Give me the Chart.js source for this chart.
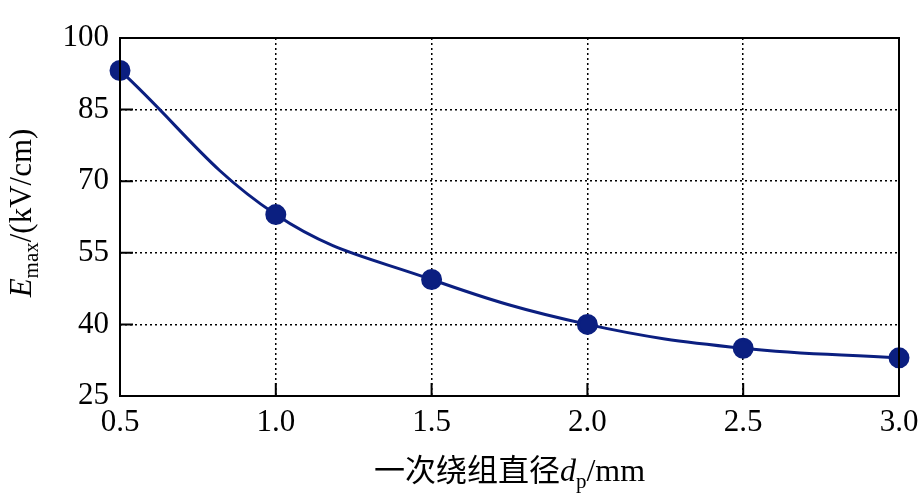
<!DOCTYPE html>
<html>
<head>
<meta charset="utf-8">
<script src="https://cdn.jsdelivr.net/npm/chart.js@4"></script>
<style>
  html, body { margin: 0; padding: 0; background: #fff; }
  #wrap { width: 919px; height: 498px; position: relative; }
</style>
</head>
<body>
<div id="wrap"><canvas id="c"></canvas></div>
<script>
// data
const diameters = [0.5, 1.0, 1.5, 2.0, 2.5, 3.0];
const eMax = [93.2, 63.0, 49.4, 40.0, 35.0, 33.0];
const xTicks = [0.5, 1.0, 1.5, 2.0, 2.5, 3.0];
const yTicks = [25, 40, 55, 70, 85, 100];

const serif = "'Liberation Serif', 'DejaVu Serif', serif";
const cjk = "'Noto Sans CJK SC', sans-serif";

// frame, inward ticks and the two axis titles
const decor = {
  id: "decor",
  afterDraw(chart) {
    const ctx = chart.ctx;
    const a = chart.chartArea;
    const xs = chart.scales.x, ys = chart.scales.y;
    ctx.save();
    ctx.strokeStyle = "#000";
    ctx.lineWidth = 2;
    ctx.setLineDash([]);
    ctx.beginPath();
    xTicks.forEach(v => {
      const px = xs.getPixelForValue(v);
      ctx.moveTo(px, a.bottom);
      ctx.lineTo(px, a.bottom - 13);
    });
    yTicks.forEach(v => {
      const py = ys.getPixelForValue(v);
      ctx.moveTo(a.left, py);
      ctx.lineTo(a.left + 13, py);
    });
    ctx.stroke();
    ctx.strokeRect(a.left, a.top, a.right - a.left, a.bottom - a.top);

    // x title: 一次绕组直径 d_p /mm
    ctx.fillStyle = "#000";
    ctx.textBaseline = "alphabetic";
    const parts = [
      { t: "一次绕组直径", f: "31px " + cjk, dy: 0 },
      { t: "d", f: "italic 32px " + serif, dy: 0 },
      { t: "p", f: "21px " + serif, dy: 7 },
      { t: "/mm", f: "32px " + serif, dy: 0 }
    ];
    drawParts(ctx, parts, (a.left + a.right) / 2, 481);

    // y title: E_max /(kV/cm), rotated
    ctx.translate(31, (a.top + a.bottom) / 2 - 4);
    ctx.rotate(-Math.PI / 2);
    const yparts = [
      { t: "E", f: "italic 31px " + serif, dy: 0 },
      { t: "max", f: "21px " + serif, dy: 7 },
      { t: "/(kV/cm)", f: "31px " + serif, dy: 0 }
    ];
    drawParts(ctx, yparts, 0, 0);
    ctx.restore();
  }
};

function drawParts(ctx, parts, cx, baseY) {
  let total = 0;
  parts.forEach(p => { ctx.font = p.f; p.w = ctx.measureText(p.t).width; total += p.w; });
  let x = cx - total / 2;
  ctx.textAlign = "left";
  parts.forEach(p => {
    ctx.font = p.f;
    ctx.fillText(p.t, x, baseY + p.dy);
    x += p.w;
  });
}

new Chart(document.getElementById("c"), {
  type: "line",
  data: {
    datasets: [{
      data: diameters.map((d, i) => ({ x: d, y: eMax[i] })),
      borderColor: "#0b1f80",
      backgroundColor: "#0b1f80",
      borderWidth: 3,
      pointRadius: 9,
      pointHoverRadius: 9,
      tension: 0.4,
      clip: false
    }]
  },
  options: {
    responsive: true,
    maintainAspectRatio: false,
    animation: false,
    layout: { padding: { top: 38, right: 20, left: 0, bottom: 0 } },
    plugins: { legend: { display: false }, tooltip: { enabled: false } },
    scales: {
      x: {
        type: "linear",
        min: 0.5,
        max: 3.0,
        afterBuildTicks: s => { s.ticks = xTicks.map(v => ({ value: v })); },
        afterFit: s => { s.height = 102; s.paddingLeft = 0; s.paddingRight = 0; },
        ticks: {
          color: "#000",
          font: { family: serif, size: 31 },
          padding: 8,
          maxRotation: 0,
          callback: v => v.toFixed(1)
        },
        grid: { color: "#000", lineWidth: 1.5, drawTicks: false },
        border: { display: false, dash: [2, 3] }
      },
      y: {
        min: 25,
        max: 100,
        afterBuildTicks: s => { s.ticks = yTicks.map(v => ({ value: v })); },
        afterFit: s => { s.width = 120; },
        ticks: {
          color: "#000",
          font: { family: serif, size: 31 },
          padding: 11
        },
        grid: { color: "#000", lineWidth: 1.5, drawTicks: false },
        border: { display: false, dash: [2, 3] }
      }
    }
  },
  plugins: [decor]
});
</script>
</body>
</html>
